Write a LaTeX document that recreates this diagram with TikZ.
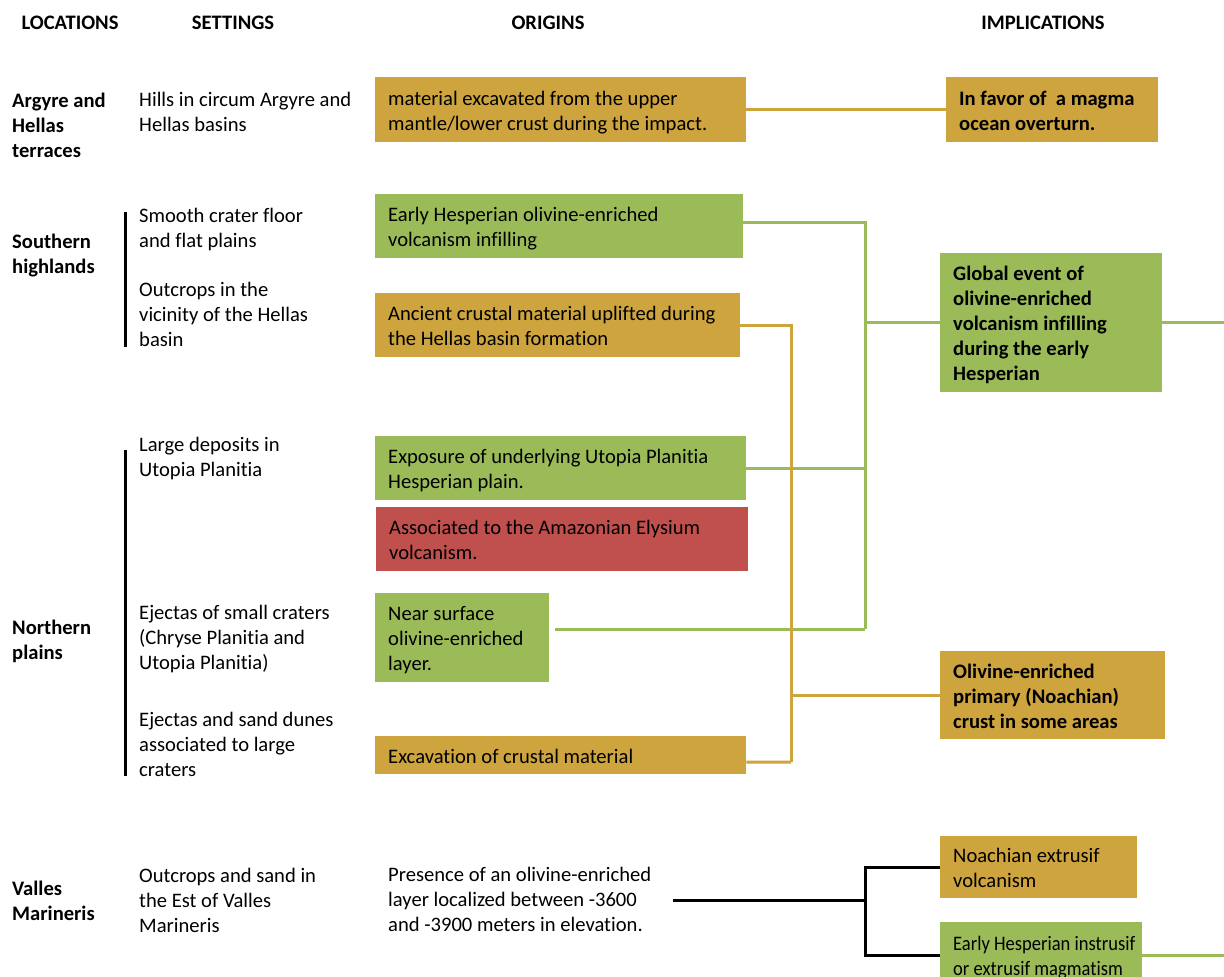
\documentclass[tikz,border=0pt]{standalone}
\usepackage{fontspec}
\setmainfont{Carlito}[Ligatures=NoCommon]
\definecolor{ocol}{HTML}{CDA43D}
\definecolor{gcol}{HTML}{9BBB59}
\definecolor{rcol}{HTML}{C0504D}
\newcommand{\boxtext}[2]{\makebox[#1][l]{\begin{tabular}{@{}l@{}}\rule{0pt}{23.5pt}#2\end{tabular}}}
\begin{document}
\begin{tikzpicture}[x=1pt,y=-1pt,
  every node/.style={font=\fontsize{20.6}{25}\selectfont, text=black},
  hdr/.style={font=\fontsize{20.6}{25}\selectfont\bfseries, anchor=base, inner sep=0pt},
  loc/.style={font=\fontsize{20.6}{25}\selectfont\bfseries, anchor=base west, align=left, inner sep=0pt},
  txt/.style={anchor=base west, align=left, inner sep=0pt},
  box/.style={rectangle, anchor=north west, inner xsep=13pt, inner ysep=0pt},
  obox/.style={box, fill=ocol},
  gbox/.style={box, fill=gcol},
  rbox/.style={box, fill=rcol},
  bbold/.style={font=\fontsize{20.6}{25}\selectfont\bfseries},
  oline/.style={draw=ocol, line width=3pt},
  gline/.style={draw=gcol, line width=3pt},
  kline/.style={draw=black, line width=3pt},
  bar/.style={draw=black, line width=3pt}]
\clip (0,0) rectangle (1224,977);
\fill[white] (0,0) rectangle (1224,977);

% headers
\node[hdr] (h1) at (70,29) {LOCATIONS};
\node[hdr] (h2) at (233,29) {SETTINGS};
\node[hdr] (h3) at (548,29) {ORIGINS};
\node[hdr] (h4) at (1043,29) {IMPLICATIONS};

% locations (anchor = baseline of last line)
\node[loc] (l1) at (12,157) {Argyre and\\Hellas\\terraces};
\node[loc] (l2) at (12,273) {Southern\\highlands};
\node[loc] (l3) at (12,659) {Northern\\plains};
\node[loc] (l4) at (12,920) {Valles\\Marineris};

% settings
\node[txt] (s1) at (139,131) {Hills in circum Argyre and\\Hellas basins};
\node[txt] (s2) at (139,247) {Smooth crater floor\\and flat plains};
\node[txt] (s3) at (139,346) {Outcrops in the\\vicinity of the Hellas\\basin};
\node[txt] (s4) at (139,476) {Large deposits in\\Utopia Planitia};
\node[txt] (s5) at (139,669) {Ejectas of small craters\\(Chryse Planitia and\\Utopia Planitia)};
\node[txt] (s6) at (139,776) {Ejectas and sand dunes\\associated to large\\craters};
\node[txt] (s7) at (139,932) {Outcrops and sand in\\the Est of Valles\\Marineris};

\draw[bar] (125,212) -- (125,347);
\draw[bar] (125,450) -- (125,776);

% origins
\node[obox, minimum height=65pt] (o1) at (375,77) {\boxtext{345pt}{material excavated from the upper\\mantle/lower crust during the impact.}};
\node[gbox, minimum height=64pt] (o2) at (375,194) {\boxtext{342pt}{Early Hesperian olivine-enriched\\volcanism infilling}};
\node[obox, minimum height=64pt] (o3) at (375,293) {\boxtext{339pt}{Ancient crustal material uplifted during\\the Hellas basin formation}};
\node[gbox, minimum height=64pt] (o4) at (375,436) {\boxtext{345pt}{Exposure of underlying Utopia Planitia\\Hesperian plain.}};
\node[rbox, minimum height=64pt] (o5) at (376,507) {\boxtext{346pt}{Associated to the Amazonian Elysium\\volcanism.}};
\node[gbox, minimum height=89pt] (o6) at (375,593) {\boxtext{148pt}{Near surface\\olivine-enriched\\layer.}};
\node[obox, minimum height=38pt] (o7) at (375,736) {\boxtext{345pt}{Excavation of crustal material}};
\node[txt] (o8) at (388,931) {Presence of an olivine-enriched\\layer localized between -3600\\and -3900 meters in elevation.};

% implications
\node[obox, bbold, minimum height=65pt] (A) at (946,77) {\boxtext{186pt}{In favor of~ a magma\\ocean overturn.}};
\node[gbox, bbold, minimum height=139pt] (B) at (940,253) {\boxtext{196pt}{Global event of\\olivine-enriched\\volcanism infilling\\during the early\\Hesperian}};
\node[obox, bbold, minimum height=88pt] (C) at (940,651) {\boxtext{199pt}{Olivine-enriched\\primary (Noachian)\\crust in some areas}};
\node[obox, minimum height=62pt] (D) at (940,836) {\boxtext{171pt}{Noachian extrusif\\volcanism}};
\node[gbox, minimum height=66pt] (E) at (940,922) {\makebox[176pt][l]{\scalebox{0.9}[1]{\begin{tabular}{@{}l@{}}\rule{0pt}{23.5pt}Early Hesperian instrusif\\or extrusif magmatism\end{tabular}}}};

% junctions and free ends
\coordinate (jg) at (865,629);
\coordinate (jo) at (791,762);
\coordinate (jk) at (865,900);
\coordinate (c6) at (555,629);
\coordinate (pk) at (673,900);
\coordinate (rB) at (1224,322.5);
\coordinate (rE) at (1224,955);

% connectors
\draw[oline] (o1.east) -- (A.west);
\draw[gline] ([yshift=4pt]o2.east) -| (jg);
\draw[gline] (o4.east) -- (o4.east -| jg);
\draw[gline] (c6) -- (jg);
\draw[gline] (jg |- B.west) -- (B.west);
\draw[gline] (B.east) -- (B.east -| rB);
\draw[oline] (o3.east) -| (jo);
\draw[oline] ([yshift=-7pt]o7.east) -- (jo);
\draw[oline] (jo |- C.west) -- (C.west);
\draw[kline] (pk) -- (jk);
\draw[kline] (D.west) -| (jk);
\draw[kline] (E.west) -| (jk);
\draw[gline] (E.east) -- (E.east -| rE);
\end{tikzpicture}
\end{document}
